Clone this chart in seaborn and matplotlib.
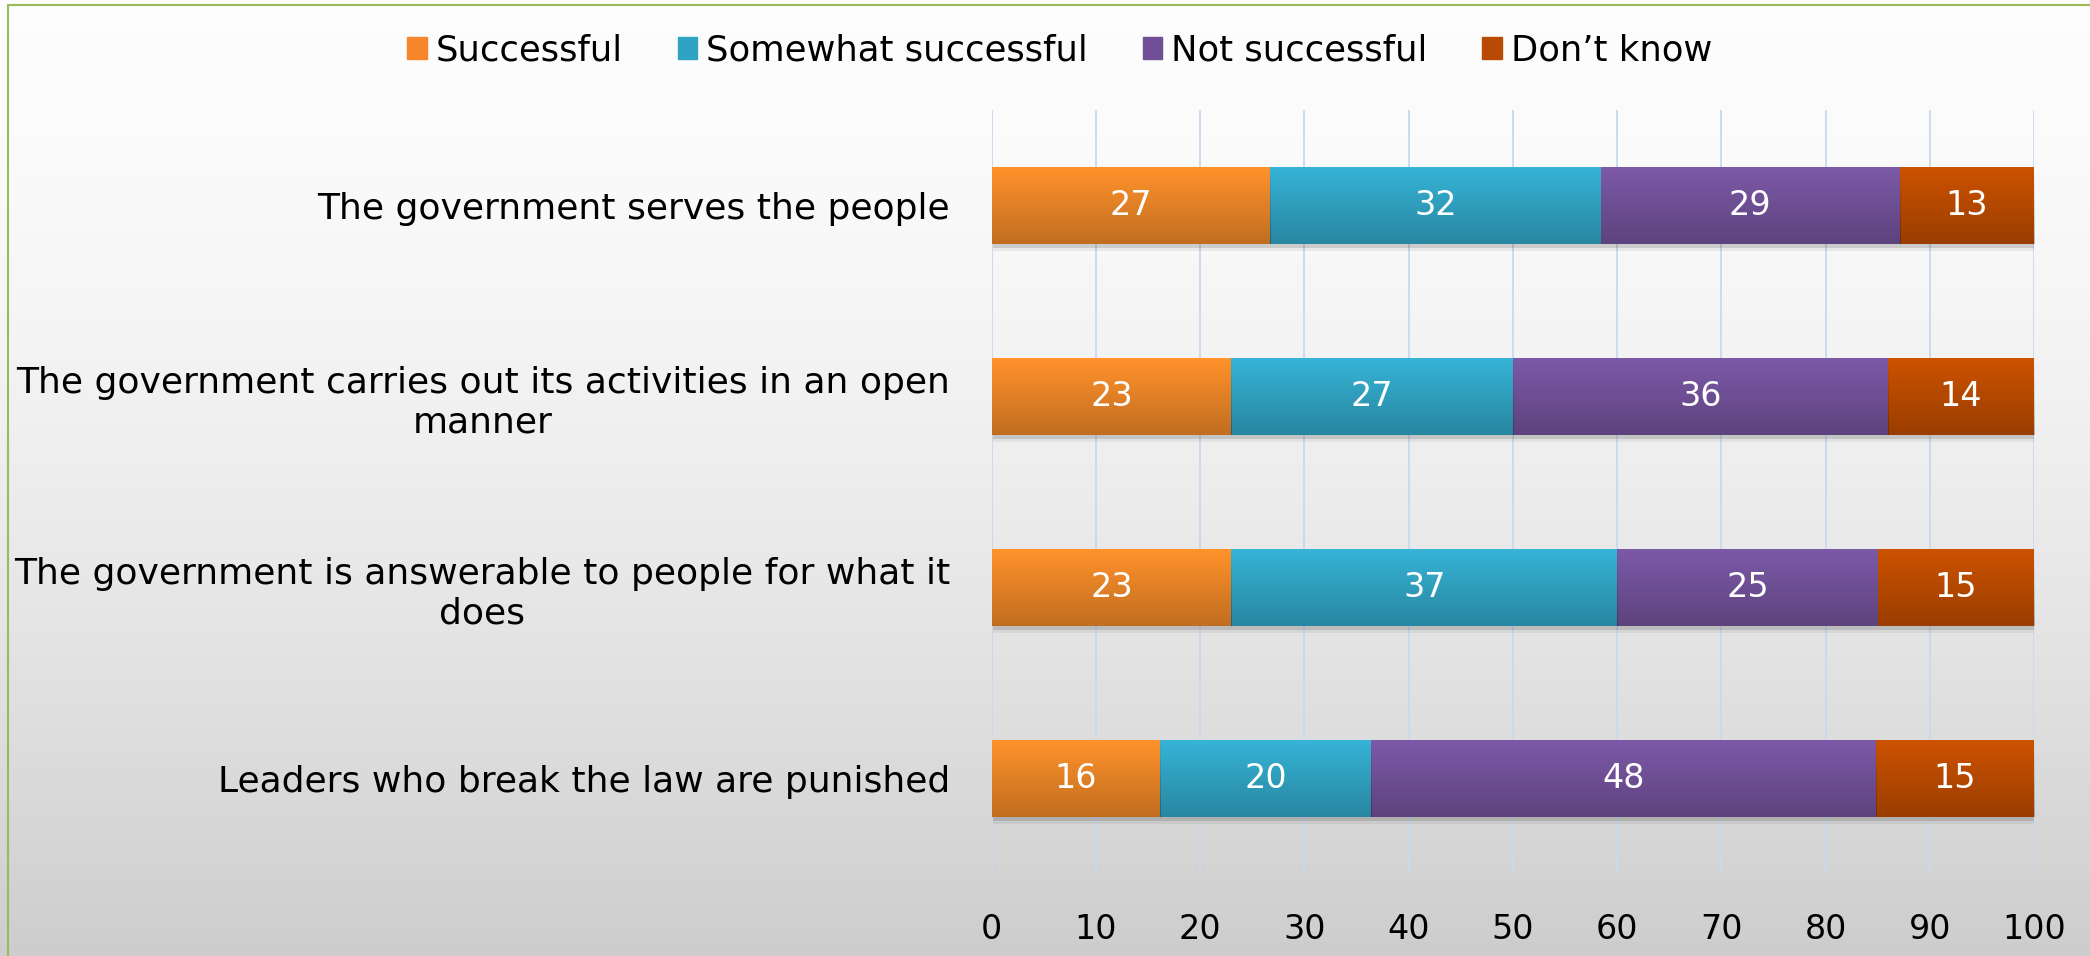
import numpy as np
import pandas as pd
import matplotlib.pyplot as plt
import matplotlib.patches as mpatches
import matplotlib.patheffects as pe
from matplotlib.colors import LinearSegmentedColormap
import seaborn as sns

sns.set_theme(style="white")
plt.rcParams['font.family'] = ['DejaVu Sans']

# Survey data (percent of respondents)
statements = [
    'The government serves the people',
    'The government carries out its activities in an open\nmanner',
    'The government is answerable to people for what it\ndoes',
    'Leaders who break the law are punished',
]
successful = [27, 23, 23, 16]
somewhat = [32, 27, 37, 20]
not_successful = [29, 36, 25, 48]
dont_know = [13, 14, 15, 15]

series_names = ['Successful', 'Somewhat successful', 'Not successful', 'Don\u2019t know']
colors = ['#F7862A', '#2FA3C4', '#704F97', '#B84A04']
top_colors = ['#FF922B', '#36B3D6', '#7C59A7', '#CC5200']

df = pd.DataFrame({
    'Statement': statements,
    'Successful': successful,
    'Somewhat successful': somewhat,
    'Not successful': not_successful,
    'Don\u2019t know': dont_know,
})
row_total = df[series_names].sum(axis=1)
pct = df[series_names].div(row_total, axis=0) * 100
cum = pct.cumsum(axis=1)

fig = plt.figure(figsize=(20.9, 9.56), dpi=100)

# background gradient + green frame
bg = fig.add_axes([0, 0, 1, 1], zorder=-10)
grad = np.linspace(0, 1, 256) ** 1.6
bg.imshow(grad[:, None], aspect='auto', cmap=LinearSegmentedColormap.from_list('bg', ['#FDFDFD', '#CDCDCD']),
          extent=[0, 1, 0, 1], origin='upper')
bg.plot([8 / 2090, 8 / 2090], [0, 1 - 5 / 956], color='#9BBB59', lw=1.5)
bg.plot([8 / 2090, 1], [1 - 5 / 956, 1 - 5 / 956], color='#9BBB59', lw=1.5)
bg.set_xlim(0, 1)
bg.set_ylim(0, 1)
bg.axis('off')

ax = fig.add_axes([0.4745, 0.0858, 0.4987, 0.7991])
ax.patch.set_alpha(0)

# stacked bars: draw cumulative totals from the largest down
for i in range(len(series_names) - 1, -1, -1):
    sns.barplot(x=cum[series_names[i]], y=df['Statement'], orient='h', color=top_colors[i],
                width=0.4, saturation=1, linewidth=0, ax=ax,
                zorder=3 + 2 * (len(series_names) - i))

# soft shadow under the full-length bars
for p in ax.patches[:len(df)]:
    p.set_path_effects([pe.SimplePatchShadow(offset=(1, -3), alpha=0.12, shadow_rgbFace='black'),
                        pe.SimplePatchShadow(offset=(1, -5), alpha=0.06, shadow_rgbFace='black'),
                        pe.Normal()])

# darken each segment towards the bottom
shade = LinearSegmentedColormap.from_list('shade', [(0, 0, 0, 0), (0, 0, 0, 0.25)])
for p in ax.patches:
    x0, y0 = p.get_x(), p.get_y()
    w, h = p.get_width(), p.get_height()
    im = ax.imshow(np.linspace(0, 1, 64)[:, None], cmap=shade, aspect='auto',
                   extent=[x0, x0 + w, y0 + h, y0], origin='upper', zorder=p.get_zorder() + 0.5)
    im.set_clip_path(p)

# value labels
for i in range(len(df)):
    for j, name in enumerate(series_names):
        center = cum.loc[i, name] - pct.loc[i, name] / 2
        ax.text(center, i, str(df.loc[i, name]), ha='center', va='center',
                color='white', fontsize=24, zorder=20)

ax.set_xlim(0, 100)
ax.set_ylim(len(df) - 0.5, -0.5)
ax.set_xticks(np.arange(0, 101, 10))
ax.xaxis.grid(True, color='#C8D9EE', lw=1.3, zorder=0)
ax.set_axisbelow(True)
for s in ax.spines.values():
    s.set_visible(False)
ax.tick_params(axis='x', length=0, pad=28, labelsize=24, labelcolor='black')
ax.tick_params(axis='y', length=0, pad=30, labelsize=26, labelcolor='black')
for lbl in ax.get_yticklabels():
    lbl.set_multialignment('center')
ax.set_xlabel('')
ax.set_ylabel('')

handles = [mpatches.Patch(color=c) for c in colors]
fig.legend(handles, series_names, loc='center', bbox_to_anchor=(0.507, 0.947), ncol=4,
           frameon=False, fontsize=25.5, handlelength=0.55, handleheight=0.55,
           handletextpad=0.25, columnspacing=1.55, labelcolor='black')

fig.savefig('out.png', dpi=100)
